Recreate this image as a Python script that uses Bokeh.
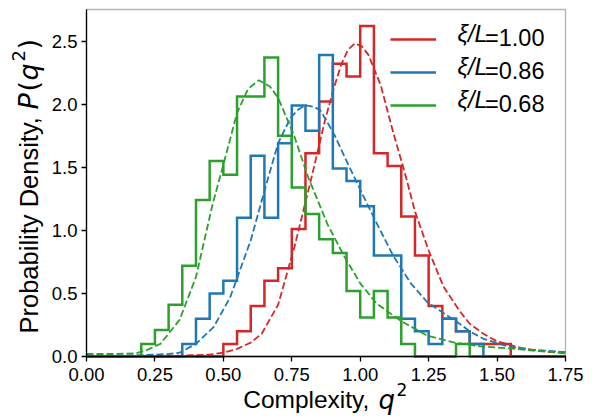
import numpy as np
from bokeh.plotting import figure
from bokeh.models import (Range1d, FixedTicker, Label, Legend, LegendItem,
                          NumeralTickFormatter, LinearAxis, BoxAnnotation)
from bokeh.core.properties import value
from bokeh.embed import file_html
from bokeh.resources import INLINE

# ---------------- data ----------------
bin_edges = [0.00, 0.05, 0.10, 0.15, 0.20, 0.25, 0.30, 0.35, 0.40, 0.45,
             0.50, 0.55, 0.60, 0.65, 0.70, 0.75, 0.80, 0.85, 0.90, 0.95,
             1.00, 1.05, 1.10, 1.15, 1.20, 1.25, 1.30, 1.35, 1.40, 1.45,
             1.50, 1.55, 1.60, 1.65, 1.70, 1.75]

red_density = [0, 0, 0, 0, 0, 0, 0, 0, 0, 0,
               0.10, 0.20, 0.40, 0.60, 0.70, 1.01, 1.61, 2.02, 2.32, 2.22,
               2.62, 1.61, 1.51, 1.11, 0.80, 0.40, 0.30, 0.20, 0.10, 0.10,
               0.10, 0, 0, 0, 0]
blue_density = [0, 0, 0, 0, 0, 0, 0, 0.10, 0.30, 0.50,
                0.60, 1.10, 1.59, 1.10, 1.69, 1.99, 1.79, 2.39, 1.49, 1.39,
                1.19, 0.80, 0.80, 0.30, 0.20, 0.10, 0.30, 0.20, 0.10, 0,
                0, 0, 0, 0, 0]
green_density = [0, 0, 0, 0, 0.10, 0.21, 0.41, 0.72, 1.24, 1.55,
                 1.44, 2.06, 2.06, 2.37, 1.75, 1.34, 1.13, 0.93, 0.82, 0.52,
                 0.31, 0.52, 0.31, 0.10, 0, 0, 0, 0.10, 0, 0,
                 0, 0, 0, 0, 0]

red_fit_q = [0.00, 0.20, 0.35, 0.45, 0.50, 0.55, 0.60, 0.64, 0.70, 0.76, 0.82,
             0.87, 0.90, 0.93, 0.955, 0.98, 1.005, 1.03, 1.075, 1.12, 1.165,
             1.20, 1.25, 1.305, 1.365, 1.40, 1.45, 1.50, 1.59, 1.67, 1.75]
red_fit_p = [0.005, 0.005, 0.008, 0.015, 0.03, 0.06, 0.11, 0.18, 0.41, 0.87, 1.40,
             1.86, 2.10, 2.31, 2.43, 2.48, 2.46, 2.39, 2.15, 1.78, 1.44,
             1.15, 0.84, 0.55, 0.355, 0.26, 0.18, 0.12, 0.067, 0.04, 0.025]

blue_fit_q = [0.00, 0.20, 0.30, 0.34, 0.40, 0.465, 0.525, 0.60, 0.655, 0.70,
              0.745, 0.775, 0.80, 0.83, 0.855, 0.905, 0.95, 0.985, 1.05, 1.12,
              1.185, 1.245, 1.30, 1.37, 1.40, 1.45, 1.54, 1.62, 1.75]
blue_fit_p = [0.008, 0.01, 0.02, 0.03, 0.10, 0.235, 0.47, 0.92, 1.35, 1.69,
              1.89, 1.96, 1.99, 1.98, 1.95, 1.76, 1.55, 1.39, 1.10, 0.80,
              0.58, 0.43, 0.35, 0.25, 0.20, 0.14, 0.08, 0.055, 0.035]

green_fit_q = [0.00, 0.10, 0.18, 0.22, 0.27, 0.34, 0.40, 0.46, 0.50, 0.55,
               0.59, 0.63, 0.67, 0.70, 0.757, 0.81, 0.88, 0.94, 1.00, 1.06,
               1.15, 1.245, 1.345, 1.44, 1.54, 1.64, 1.75]
green_fit_p = [0.02, 0.02, 0.025, 0.05, 0.10, 0.29, 0.63, 1.20, 1.52, 1.93,
               2.12, 2.19, 2.14, 2.05, 1.76, 1.42, 1.05, 0.80, 0.58, 0.42,
               0.28, 0.165, 0.11, 0.08, 0.065, 0.045, 0.03]

legend_values = ["=1.00", "=0.86", "=0.68"]
legend_symbol = "ξ/L"
x_ticks = [0.00, 0.25, 0.50, 0.75, 1.00, 1.25, 1.50, 1.75]
y_ticks = [0.0, 0.5, 1.0, 1.5, 2.0, 2.5]

# ---------------- layout / style ----------------
W, H = 592, 419
FL, FR, FT, FB = 86, 565, 9, 356          # plot-box edges in pixels
X0, X1 = 0.0, 1.75
Y0, Y1 = 0.0, 2.75
FONT = "Liberation Sans"
MATH_FONT = "DejaVu Sans"
RED, BLUE, GREEN = "#d62728", "#1f77b4", "#2ca02c"
XPP = (X1 - X0) / (FR - FL)   # data per pixel
YPP = (Y1 - Y0) / (FB - FT)


def dx(sx):
    return X0 + (sx - FL) * XPP


def dy(sy):
    return Y0 + (FB - sy) * YPP


# the frame spans the whole canvas; the plot box is drawn inside it
p = figure(width=W, height=H, output_backend="svg", toolbar_location=None,
           x_range=Range1d(dx(0), dx(W)), y_range=Range1d(dy(H), dy(0)),
           x_axis_location=None, y_axis_location=None,
           min_border=0, min_border_left=0, min_border_right=0,
           min_border_top=0, min_border_bottom=0)
p.background_fill_color = "white"
p.border_fill_color = "white"
p.outline_line_color = None
p.grid.visible = False

xaxis = LinearAxis(fixed_location=Y0, bounds=(X0, X1))
yaxis = LinearAxis(fixed_location=X0, bounds=(Y0, Y1))
for ax in (xaxis, yaxis):
    ax.axis_line_color = "black"
    ax.axis_line_width = 1.3
    ax.major_tick_line_color = "black"
    ax.major_tick_line_width = 1.3
    ax.major_tick_out = 5
    ax.major_tick_in = 0
    ax.minor_tick_line_color = None
    ax.major_label_text_font = FONT
    ax.major_label_text_font_size = "18.5px"
    ax.major_label_text_color = "black"
    ax.axis_label = None
xaxis.ticker = FixedTicker(ticks=x_ticks)
xaxis.formatter = NumeralTickFormatter(format="0.00")
xaxis.major_label_standoff = 6
yaxis.ticker = FixedTicker(ticks=y_ticks)
yaxis.formatter = NumeralTickFormatter(format="0.0")
yaxis.major_label_standoff = 4
p.add_layout(xaxis, "below")
p.add_layout(yaxis, "left")

series = [
    (red_density, red_fit_q, red_fit_p, RED),
    (blue_density, blue_fit_q, blue_fit_p, BLUE),
    (green_density, green_fit_q, green_fit_p, GREEN),
]

hist_renderers = []
for dens, fq, fp, col in series:
    xs = [bin_edges[0]] + list(bin_edges)
    ys = [0.0] + list(dens) + [0.0]
    r = p.step(x=xs, y=ys, mode="after", line_color=col, line_width=2.5,
               line_join="miter")
    hist_renderers.append(r)
    p.line(fq, fp, line_color=col, line_width=1.8, line_dash="7 3")

# plot box (spines)
p.add_layout(BoxAnnotation(left=X0, right=X1, bottom=Y0, top=Y1,
                           fill_color=None, fill_alpha=0,
                           line_color="black", line_width=1.3))

# legend: solid keys + "=value" text, italic symbol added as labels
GLYPH_LEFT, GLYPH_W, PAD, ROW_H, SPACING = 395, 46, 5, 30, 3
ROW0 = 33.8
SYM_X = 457
VAL_X = 490
legend_top = ROW0 - ROW_H / 2 - PAD
legend_h = 2 * PAD + 3 * ROW_H + 2 * SPACING
legend = Legend(
    items=[LegendItem(label=value(t), renderers=[r]) for t, r in zip(legend_values, hist_renderers)],
    location=(GLYPH_LEFT - PAD, H - (legend_top + legend_h)),
    glyph_width=GLYPH_W, glyph_height=ROW_H, label_height=ROW_H,
    label_standoff=int(round(VAL_X - GLYPH_LEFT - GLYPH_W)),
    spacing=SPACING, padding=PAD, margin=0,
    border_line_color=None, background_fill_alpha=0,
    label_text_font=FONT, label_text_font_size="23.5px", label_text_color="black",
)
p.add_layout(legend)

for i in range(3):
    yc = ROW0 + i * (ROW_H + SPACING)
    p.add_layout(Label(x=dx(SYM_X), y=dy(yc), text=legend_symbol,
                       text_font=FONT, text_font_size="23.5px", text_font_style="italic",
                       text_align="left", text_baseline="middle", text_color="black"))

# x axis label: "Complexity, q^2"
XL_BASE = 399
p.add_layout(Label(x=dx(242.7), y=dy(XL_BASE), text="Complexity, ", text_font=FONT,
                   text_font_size="24.5px", text_align="left", text_baseline="alphabetic",
                   text_color="black"))
p.add_layout(Label(x=dx(378), y=dy(XL_BASE), text="q", text_font=MATH_FONT,
                   text_font_size="26px", text_font_style="italic", text_align="left",
                   text_baseline="alphabetic", text_color="black"))
p.add_layout(Label(x=dx(396), y=dy(XL_BASE - 10), text="2", text_font=MATH_FONT,
                   text_font_size="17px", text_align="left", text_baseline="alphabetic",
                   text_color="black"))

# y axis label: "Probability Density, P(q^2)" (rotated)
YL_BASE = 28
segs = [("Probability Density, ", 333, FONT, "normal", "25.5px", 0),
        ("P", 109, MATH_FONT, "italic", "27px", 0),
        ("(", 91, MATH_FONT, "normal", "27px", 0),
        ("q", 80, MATH_FONT, "italic", "27px", 0),
        ("2", 61, MATH_FONT, "normal", "18px", 10),
        (")", 49, MATH_FONT, "normal", "27px", 0)]
for txt, sy, fnt, style, size, raise_px in segs:
    p.add_layout(Label(x=dx(YL_BASE - raise_px), y=dy(sy), text=txt, angle=np.pi / 2,
                       text_font=fnt, text_font_size=size, text_font_style=style,
                       text_align="left", text_baseline="alphabetic", text_color="black"))

open("out.html", "w").write(file_html(p, INLINE))
